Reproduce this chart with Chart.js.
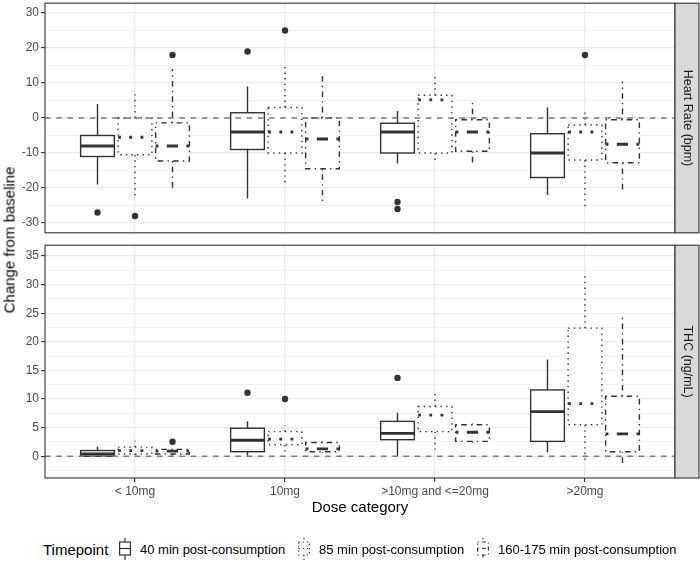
<!DOCTYPE html>
<html lang="en">
<head>
<meta charset="UTF-8">
<title>Change from baseline by dose category</title>
<script src="https://cdn.jsdelivr.net/npm/chart.js"></script>
<style>
  body { margin: 0; width: 700px; height: 561px; position: relative; background: #fff;
         font-family: "Liberation Sans", Arial, sans-serif; overflow: hidden; }
  canvas { position: absolute; left: 0; }
  #top { top: 0; }
  #bottom { top: 242px; }
  .ytitle { position: absolute; left: 9px; top: 240px; transform: translate(-50%, -50%) rotate(-90deg);
            font-size: 15px; font-weight: normal; white-space: nowrap; color: #000; }
  .xtitle { position: absolute; left: 360px; top: 506px; transform: translate(-50%, -50%);
            font-size: 15px; white-space: nowrap; color: #000; }
  .leg { position: absolute; top: 549px; transform: translateY(-50%); white-space: nowrap; }
  .leg.title { font-size: 15px; color: #000; }
  .leg.lab { font-size: 13px; color: #000; }
  .leg.key { top: 538px; transform: none; }
</style>
</head>
<body>
<canvas id="top" width="700" height="236"></canvas>
<canvas id="bottom" width="700" height="260"></canvas>
<div class="ytitle">Change from baseline</div>
<div class="xtitle">Dose category</div>

<div class="leg title" style="left:43px">Timepoint</div>
<svg class="leg key" style="left:119px" width="12" height="22"><g stroke="#333" stroke-width="1.2" fill="#fff"><line x1="6" y1="0" x2="6" y2="22"/><rect x="0.6" y="4" width="10.8" height="13"/><line x1="0.6" y1="10.5" x2="11.4" y2="10.5"/></g></svg>
<div class="leg lab" style="left:140px">40 min post-consumption</div>
<svg class="leg key" style="left:298px" width="12" height="22"><g stroke="#333" stroke-width="1.2" fill="#fff" stroke-dasharray="1.2 3"><line x1="6" y1="0" x2="6" y2="22"/><rect x="0.6" y="4" width="10.8" height="13"/><line x1="0.6" y1="10.5" x2="11.4" y2="10.5"/></g></svg>
<div class="leg lab" style="left:319px">85 min post-consumption</div>
<svg class="leg key" style="left:477px" width="12" height="22"><g stroke="#333" stroke-width="1.2" fill="#fff" stroke-dasharray="1.2 3 4 3"><line x1="6" y1="0" x2="6" y2="22"/><rect x="0.6" y="4" width="10.8" height="13"/><line x1="0.6" y1="10.5" x2="11.4" y2="10.5"/></g></svg>
<div class="leg lab" style="left:498px">160-175 min post-consumption</div>

<script>
// dose categories on the x axis
const categories = ['< 10mg', '10mg', '>10mg and <=20mg', '>20mg'];
const timepoints = ['40 min post-consumption', '85 min post-consumption', '160-175 min post-consumption'];

// heart rate (bpm): per category [lower whisker, Q1, median, Q3, upper whisker]
const hr40  = [[-19, -11, -8, -5, 4], [-23, -9, -4, 1.5, 9], [-13, -10, -4, -1.5, 2], [-22, -17, -10, -4.5, 3]];
const hr85  = [[-23, -10.5, -5.5, 0, 7.3], [-18.7, -10, -4, 3, 15.3], [-12, -10, 5.2, 6.5, 12], [-26, -12, -4, -2, 1.7]];
const hr160 = [[-21, -12.3, -8, -1.4, 14], [-24, -14.5, -6, 0, 13], [-13.5, -9.5, -4, -0.5, 5], [-21, -12.8, -7.5, -0.5, 10.4]];
const hr40Out  = [[-27], [19], [-24, -26], []];
const hr85Out  = [[-28], [25], [], [18]];
const hr160Out = [[18], [], [], []];

// THC (ng/mL)
const thc40  = [[0, 0, 0.4, 1.0, 1.7], [0.1, 0.8, 2.8, 4.9, 6.1], [0, 2.9, 4.0, 6.1, 7.6], [0.7, 2.6, 7.8, 11.6, 16.9]];
const thc85  = [[0.2, 0.4, 1.0, 1.6, 2.7], [0.7, 2.0, 3.0, 4.3, 5.4], [0.4, 4.3, 7.2, 8.7, 10.9], [-1, 5.5, 9.2, 22.4, 32.1]];
const thc160 = [[0.1, 0.4, 0.9, 1.2, 1.3], [0.6, 0.8, 1.3, 2.4, 2.7], [2.2, 2.6, 4.2, 5.5, 5.9], [-1.2, 0.8, 3.9, 10.5, 24.8]];
const thc40Out  = [[], [11.1], [13.7], []];
const thc85Out  = [[], [10], [], []];
const thc160Out = [[2.55], [], [], []];

const FONT = '"Liberation Sans", Arial, sans-serif';
const DARK = '#333333';
const dodge = [-0.25, 0, 0.25];
const halfWidth = 0.1125;
const dashes = [[], [1.4, 4.2], [1.4, 4.2, 5.6, 4.2]];

function boxPlugin(series, stripText) {
  return {
    id: 'boxes',
    beforeDatasetsDraw(chart) {
      const { ctx, scales: { x, y } } = chart;
      series.forEach((boxes, t) => {
        boxes.forEach((b, c) => {
          const pos = c + 1 + dodge[t];
          const xc = x.getPixelForValue(pos);
          const x0 = x.getPixelForValue(pos - halfWidth);
          const x1 = x.getPixelForValue(pos + halfWidth);
          const [lo, q1, med, q3, hi] = b.map(v => y.getPixelForValue(v));
          ctx.save();
          ctx.strokeStyle = DARK;
          ctx.lineWidth = 1.4;
          ctx.setLineDash(dashes[t]);
          ctx.beginPath();
          ctx.moveTo(xc, q3); ctx.lineTo(xc, hi);
          ctx.moveTo(xc, q1); ctx.lineTo(xc, lo);
          ctx.stroke();
          ctx.fillStyle = '#fff';
          ctx.fillRect(x0, q3, x1 - x0, q1 - q3);
          ctx.strokeRect(x0, q3, x1 - x0, q1 - q3);
          ctx.lineWidth = 2.8;
          ctx.setLineDash(dashes[t].map(d => d * 2));
          ctx.beginPath();
          ctx.moveTo(x0, med); ctx.lineTo(x1, med);
          ctx.stroke();
          ctx.restore();
        });
      });
    },
    afterDatasetsDraw(chart) {
      const { ctx, chartArea: a, scales: { y } } = chart;
      ctx.save();
      // zero reference line
      const y0 = y.getPixelForValue(0);
      ctx.strokeStyle = '#7a7a7a';
      ctx.lineWidth = 1.3;
      ctx.setLineDash([5.6, 5.6]);
      ctx.beginPath(); ctx.moveTo(a.left, y0); ctx.lineTo(a.right, y0); ctx.stroke();
      ctx.setLineDash([]);
      // panel border
      ctx.strokeStyle = DARK;
      ctx.lineWidth = 1.1;
      ctx.strokeRect(a.left, a.top, a.right - a.left, a.bottom - a.top);
      // facet strip
      ctx.fillStyle = '#D9D9D9';
      ctx.fillRect(a.right, a.top, 24, a.bottom - a.top);
      ctx.strokeRect(a.right, a.top, 24, a.bottom - a.top);
      ctx.fillStyle = '#1A1A1A';
      ctx.font = '12.5px ' + FONT;
      ctx.textAlign = 'center';
      ctx.textBaseline = 'middle';
      ctx.translate(a.right + 12, (a.top + a.bottom) / 2);
      ctx.rotate(Math.PI / 2);
      ctx.fillText(stripText, 0, 0);
      ctx.restore();
    }
  };
}

function outlierPoints(lists) {
  const pts = [];
  lists.forEach((perCat, t) => perCat.forEach((vals, c) => vals.forEach(v => pts.push({ x: c + 1 + dodge[t], y: v }))));
  return pts;
}

function makePanel(id, series, outs, yMin, yMax, step, labelEvery, stripText, showX, padTop, xHeight) {
  const isMajor = v => Math.abs(v / labelEvery - Math.round(v / labelEvery)) < 1e-6;
  return new Chart(document.getElementById(id), {
    type: 'scatter',
    data: {
      datasets: [{
        data: outlierPoints(outs),
        pointRadius: 3.2,
        pointHoverRadius: 3.2,
        backgroundColor: DARK,
        borderWidth: 0
      }]
    },
    options: {
      responsive: false,
      animation: false,
      events: [],
      layout: { padding: { top: padTop, right: 25, left: 0, bottom: 0 } },
      plugins: { legend: { display: false }, tooltip: { enabled: false } },
      scales: {
        x: {
          type: 'linear', min: 0.4, max: 4.6,
          afterFit: s => { s.height = xHeight; s.paddingLeft = 0; s.paddingRight = 0; },
          ticks: {
            display: showX, stepSize: 1, includeBounds: false, autoSkip: false, maxRotation: 0, padding: 2,
            color: '#4D4D4D', font: { family: FONT, size: 12 },
            callback: v => categories[v - 1] ?? ''
          },
          grid: { color: '#EBEBEB', lineWidth: 1.2, drawTicks: showX, tickLength: 4, tickColor: DARK, tickWidth: 1.1 },
          border: { display: false }
        },
        y: {
          min: yMin, max: yMax,
          afterFit: s => { s.width = 45; s.paddingTop = 0; s.paddingBottom = 0; },
          ticks: {
            stepSize: step, includeBounds: false, autoSkip: false, padding: 2,
            color: '#4D4D4D', font: { family: FONT, size: 12 },
            callback: v => isMajor(v) ? String(v) : ''
          },
          grid: {
            color: '#EBEBEB',
            lineWidth: c => isMajor(c.tick.value) ? 1.2 : 0.6,
            tickLength: 4,
            tickWidth: 1.1,
            tickColor: c => isMajor(c.tick.value) ? DARK : 'rgba(0,0,0,0)'
          },
          border: { display: false }
        }
      }
    },
    plugins: [boxPlugin(series, stripText)]
  });
}

makePanel('top', [hr40, hr85, hr160], [hr40Out, hr85Out, hr160Out], -32.8, 32.8, 5, 10, 'Heart Rate (bpm)', false, 1, 2);
makePanel('bottom', [thc40, thc85, thc160], [thc40Out, thc85Out, thc160Out], -3.8, 36.9, 2.5, 5, 'THC (ng/mL)', true, 1.3, 24);
</script>
</body>
</html>
